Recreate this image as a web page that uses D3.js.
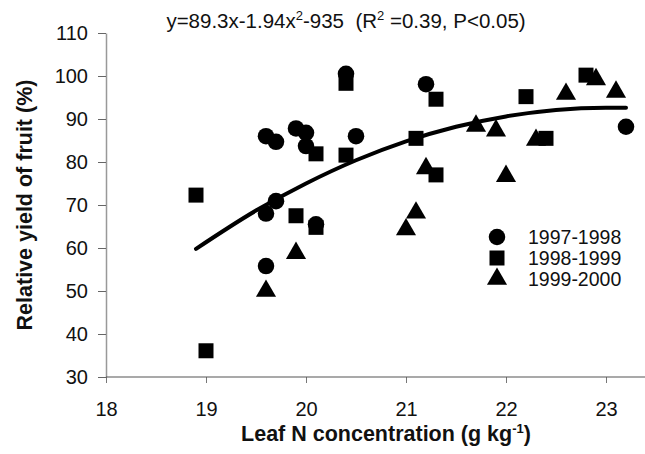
<!DOCTYPE html>
<html>
<head>
<meta charset="utf-8">
<script src="https://cdn.jsdelivr.net/npm/d3@7"></script>
<style>
  body { margin: 0; background: #fff; }
  text { font-family: "Liberation Sans", Arial, sans-serif; fill: #111; }
</style>
</head>
<body>
<div id="chart"></div>
<script>
// data
var nitrogen97 = [20.4, 19.6, 19.7, 19.9, 20.0, 20.0, 20.5, 19.7, 19.6, 20.1, 19.6, 21.2, 23.2];
var yield97    = [100.5, 86, 84.7, 87.8, 86.8, 83.7, 86, 70.9, 68, 65.5, 55.8, 98.1, 88.2];

var nitrogen98 = [18.9, 19.0, 19.9, 20.1, 20.1, 20.4, 20.4, 21.1, 21.3, 21.3, 22.2, 22.4, 22.8];
var yield98    = [72.3, 36.1, 67.5, 64.8, 81.9, 81.6, 98.3, 85.5, 94.6, 77, 95.2, 85.5, 100.2];

var nitrogen99 = [19.6, 19.9, 21.0, 21.1, 21.2, 21.7, 21.9, 22.0, 22.3, 22.6, 22.9, 23.1];
var yield99    = [50, 58.8, 64.3, 68.2, 78.5, 88.4, 87.3, 76.7, 85.1, 95.8, 99.2, 96.3];

// fitted curve as drawn
var fitN     = [18.9, 19.5, 20, 20.5, 21, 21.5, 22, 22.5, 23, 23.2];
var fitYield = [59.8, 68.7, 75.0, 80.4, 84.8, 88.2, 90.6, 92.1, 92.6, 92.6];

var seasons = ["1997-1998", "1998-1999", "1999-2000"];
var xTicks = [18, 19, 20, 21, 22, 23];
var yTicks = [30, 40, 50, 60, 70, 80, 90, 100, 110];

var W = 645, H = 454;
var margin = {top: 33, right: 39, bottom: 77, left: 106},
  width = W - margin.left - margin.right,
  height = H - margin.top - margin.bottom;

var svg = d3.select("#chart")
  .append("svg")
    .attr("width", W)
    .attr("height", H)
  .append("g")
    .attr("transform", "translate(" + margin.left + "," + margin.top + ")");

var x = d3.scaleLinear().domain([18, 23]).range([0, 500]);
var y = d3.scaleLinear().domain([30, 110]).range([height, 0]);

// y axis
var yAxis = svg.append("g")
  .call(d3.axisLeft(y).tickValues(yTicks).tickSize(8).tickPadding(10).tickSizeOuter(0));
yAxis.selectAll("text").style("font-size", "20px");
yAxis.selectAll("line").attr("stroke", "#666");
yAxis.select(".domain").attr("stroke", "#999").attr("stroke-width", 1.5);

// x axis
var xAxis = svg.append("g")
  .attr("transform", "translate(0," + height + ")")
  .call(d3.axisBottom(x).tickValues(xTicks).tickFormat(d3.format("d"))
    .tickSize(6).tickPadding(19).tickSizeOuter(0));
xAxis.selectAll("text").style("font-size", "20px");
xAxis.selectAll("line").attr("stroke", "#777");
xAxis.select(".domain").remove();
xAxis.append("line")
  .attr("x1", 0).attr("x2", W - margin.left)
  .attr("stroke", "#555").attr("stroke-width", 1.2);

// fitted curve
var fit = fitN.map(function(d, i) { return [d, fitYield[i]]; });
svg.append("path")
  .datum(fit)
  .attr("fill", "none")
  .attr("stroke", "#000")
  .attr("stroke-width", 4)
  .attr("stroke-linecap", "round")
  .attr("d", d3.line()
    .x(function(d) { return x(d[0]); })
    .y(function(d) { return y(d[1]); })
    .curve(d3.curveMonotoneX));

// points
var symbols = [d3.symbolCircle, d3.symbolSquare, d3.symbolTriangle];
var sizes = [215, 225, 175];
var groups = [
  nitrogen97.map(function(d, i) { return {n: d, v: yield97[i], s: 0}; }),
  nitrogen98.map(function(d, i) { return {n: d, v: yield98[i], s: 1}; }),
  nitrogen99.map(function(d, i) { return {n: d, v: yield99[i], s: 2}; })
];
groups.forEach(function(g) {
  svg.selectAll(null)
    .data(g)
    .enter()
    .append("path")
      .attr("transform", function(d) { return "translate(" + x(d.n) + "," + y(d.v) + ")"; })
      .attr("d", function(d) { return d3.symbol().type(symbols[d.s]).size(sizes[d.s])(); })
      .attr("fill", "#000");
});

// legend
var legend = svg.selectAll(".legend")
  .data(seasons)
  .enter()
  .append("g")
    .attr("transform", function(d, i) { return "translate(" + (391) + "," + (204 + i * 21) + ")"; });
legend.append("path")
  .attr("d", function(d, i) { return d3.symbol().type(symbols[i]).size(sizes[i])(); })
  .attr("fill", "#000");
legend.append("text")
  .attr("x", 31)
  .attr("dy", "0.36em")
  .style("font-size", "19.5px")
  .text(function(d) { return d; });

// equation
var eq = svg.append("text")
  .attr("x", 240)
  .attr("y", -5)
  .attr("text-anchor", "middle")
  .attr("xml:space", "preserve")
  .style("font-size", "20.5px");
eq.append("tspan").text("y=89.3x-1.94x");
eq.append("tspan").attr("dy", -8).style("font-size", "13px").text("2");
eq.append("tspan").attr("dy", 8).text("-935  (R");
eq.append("tspan").attr("dy", -8).style("font-size", "13px").text("2");
eq.append("tspan").attr("dy", 8).text(" =0.39, P<0.05)");

// x title
var xt = svg.append("text")
  .attr("x", 280)
  .attr("y", height + 64)
  .attr("text-anchor", "middle")
  .style("font-size", "21.5px")
  .style("font-weight", "bold")
  .text("Leaf N concentration (g kg");
xt.append("tspan").attr("dy", -8).style("font-size", "13px").text("-1");
xt.append("tspan").attr("dy", 8).text(")");

// y title
svg.append("text")
  .attr("transform", "rotate(-90)")
  .attr("x", -y(70))
  .attr("y", -74)
  .attr("text-anchor", "middle")
  .style("font-size", "21.5px")
  .style("font-weight", "bold")
  .text("Relative yield of fruit (%)");
</script>
</body>
</html>
